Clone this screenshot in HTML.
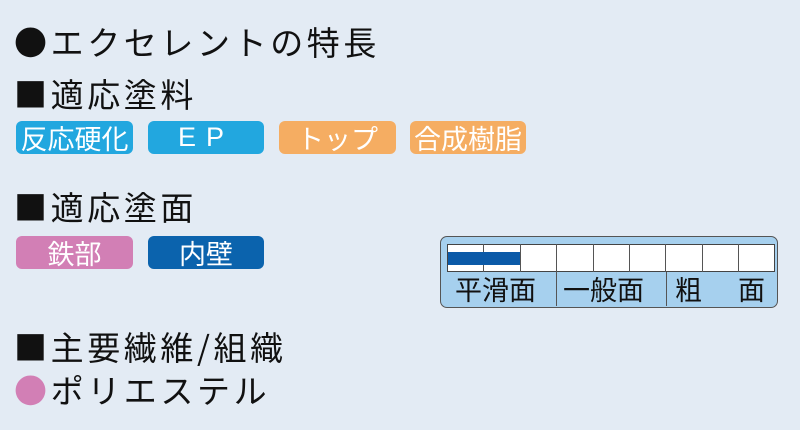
<!DOCTYPE html>
<html><head><meta charset="utf-8"><style>
body{margin:0;width:800px;height:430px;background:#e3ebf4;position:relative;overflow:hidden;font-family:"Noto Sans CJK JP",sans-serif;color:#111}
.t{position:absolute;left:14px;font-size:33px;line-height:1;white-space:nowrap;letter-spacing:3.6px}
.b{position:absolute;height:33px;border-radius:6px;color:#fff;font-size:27px;line-height:33px;text-align:center;white-space:nowrap}
.cy{background:#22a7df}.or{background:#f5ad62}.pk{background:#d27fb5}.nv{background:#0b63ad}
.lab{position:absolute;top:274px;font-size:27px;line-height:1.1;white-space:nowrap}
</style></head><body>
<div class="t" style="top:25px">●エクセレントの特長</div>
<div class="t" style="top:77px">■適応塗料</div>
<div class="b cy" style="left:16px;top:121px;width:117px">反応硬化</div>
<div class="b cy" style="left:148px;top:121px;width:116px;letter-spacing:10px;font-family:'Liberation Sans',sans-serif">EP</div>
<div class="b or" style="left:279px;top:121px;width:117px">トップ</div>
<div class="b or" style="left:410px;top:121px;width:116px">合成樹脂</div>
<div class="t" style="top:190px">■適応塗面</div>
<div class="b pk" style="left:16px;top:236px;width:117px">鉄部</div>
<div class="b nv" style="left:148px;top:236px;width:116px">内壁</div>
<div class="t" style="top:330px">■主要繊維/組織</div>
<div class="t" style="top:373px"><span style="color:#d27fb5">●</span>ポリエステル</div>
<div style="position:absolute;left:440px;top:236px;width:336px;height:70px;background:#a6d0ee;border:1px solid #555;border-radius:7px"></div>
<div style="position:absolute;left:447px;top:244px;width:328px;height:28px;background:#fff;border:1px solid #444;box-sizing:border-box"></div>
<div id="cells"></div>
<script>
var h='';for(var i=1;i<9;i++){h+='<div style="position:absolute;left:'+(447+i*36.4)+'px;top:244px;width:1px;height:28px;background:#555"></div>';}
document.getElementById('cells').innerHTML=h;
</script>
<div style="position:absolute;left:448px;top:252px;width:72px;height:13px;background:#0b5aa8"></div>
<div style="position:absolute;left:556px;top:272px;width:1px;height:34px;background:#555"></div>
<div style="position:absolute;left:666px;top:272px;width:1px;height:34px;background:#555"></div>
<div class="lab" style="left:455px">平滑面</div>
<div class="lab" style="left:563px">一般面</div>
<div class="lab" style="left:675px">粗</div>
<div class="lab" style="left:738px">面</div>
</body></html>
